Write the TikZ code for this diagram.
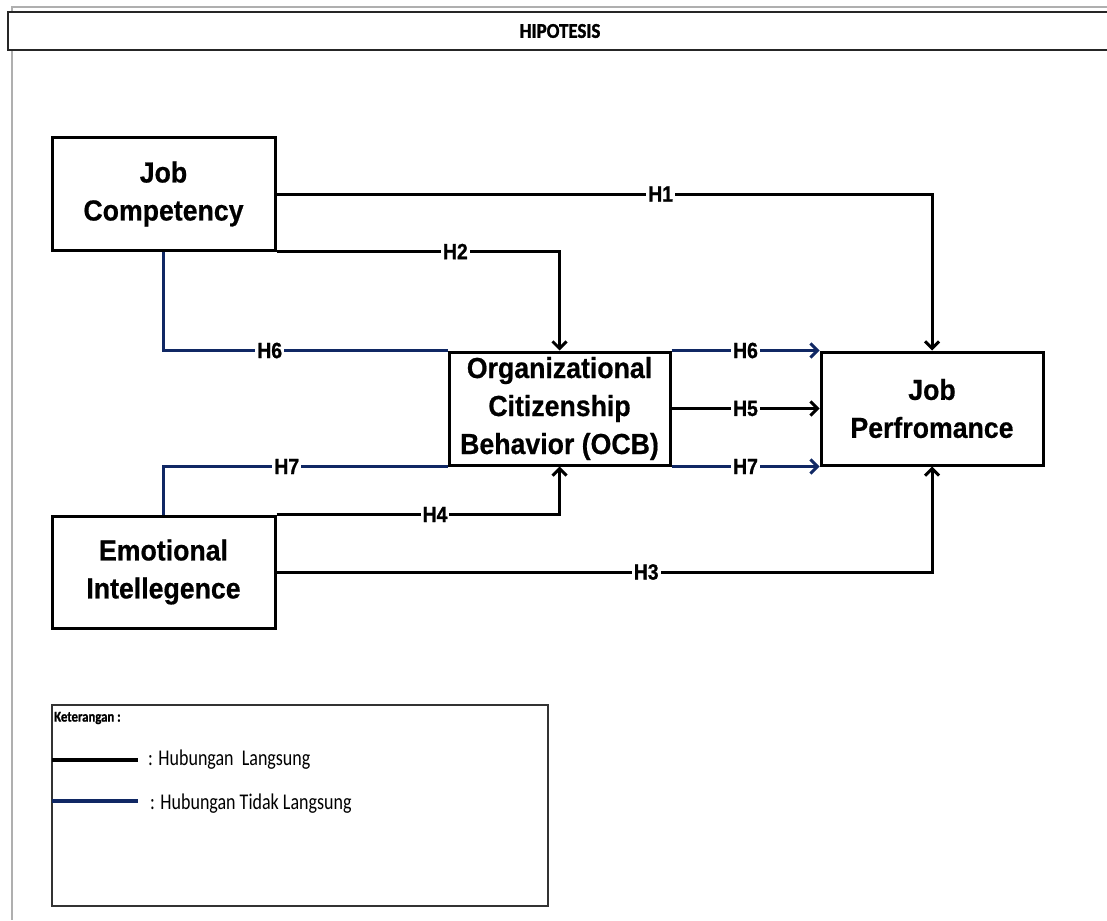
\documentclass[tikz,border=0pt]{standalone}
\usepackage{fontspec}
\setmainfont{Liberation Sans}
\newfontfamily\boxfont{Liberation Sans}[FakeStretch=0.92,FakeBold=0.6]
\newfontfamily\lblfont{Liberation Sans}[FakeStretch=0.88,FakeBold=1]
\newfontfamily\legfont{Carlito}[FakeStretch=0.8]
\newfontfamily\ketfont{Carlito}[FakeStretch=0.85,FakeBold=1]
\newfontfamily\titfont{Carlito}[FakeStretch=0.9,FakeBold=1.5]
\usetikzlibrary{arrows.meta}
\definecolor{navy}{RGB}{16,40,100}
\definecolor{framegray}{RGB}{175,175,175}
\begin{document}
\begin{tikzpicture}[x=1pt,y=-1pt,
  box/.style={draw, line width=3pt, inner sep=0pt, align=center,
    font={\boxfont\bfseries\fontsize{29}{38}\selectfont}},
  lbl/.style={fill=white, inner xsep=2pt, inner ysep=1pt,
    font={\lblfont\bfseries\fontsize{22}{24}\selectfont}},
  conn/.style={line width=3pt},
  indirect/.style={conn, draw=navy},
  arr/.style={-{Straight Barb[length=7pt,width=14pt]}},
  legtext/.style={anchor=west, inner sep=0pt, font={\legfont\fontsize{22.5}{24}\selectfont}}
]
\useasboundingbox (0,0) rectangle (1107,920);

% outer frame
\draw[framegray, line width=1.5pt] (12,12) -- (12,7) -- (1107,7);
\draw[framegray, line width=1.5pt] (12,50) -- (12,920);
\node[draw=black!85, line width=1.6pt, minimum width=1104pt, minimum height=38pt, inner sep=0pt,
  font={\titfont\bfseries\fontsize{21}{23}\selectfont}] (title) at (560,31) {HIPOTESIS};

% main nodes
\node[box, minimum width=223pt, minimum height=112pt] (jc) at (163.5,194) {Job\\Competency};
\node[box, minimum width=221pt, minimum height=113pt] (ocb) at (559.5,408.5) {Organizational\\Citizenship\\Behavior (OCB)};
\node[box, minimum width=222pt, minimum height=113pt] (jp) at (932,408.5) {Job\\Perfromance};
\node[box, minimum width=223pt, minimum height=112pt] (ei) at (163.5,572) {Emotional\\Intellegence};

% direct connectors
\draw[conn, arr] (jc.east) -| node[lbl, pos=0.293] (h1) {H1} (jp.north);
\draw[conn, arr] (jc.south east) -| node[lbl, pos=0.316] (h2) {H2} (ocb.north);
\draw[conn, arr] (ei.north east) -| node[lbl, pos=0.28] (h4) {H4} (ocb.south);
\draw[conn, arr] (ei.east) -| node[lbl, pos=0.282] (h3) {H3} (jp.south);
\draw[conn, arr] (ocb.east) -- node[lbl] (h5) {H5} (jp.west);

% indirect connectors
\draw[indirect] (jc.south) |- node[lbl, pos=0.687] (h6a) {H6} (ocb.north west);
\draw[indirect] (ei.north) |- node[lbl, pos=0.717] (h7a) {H7} (ocb.south west);
\draw[indirect, arr] (ocb.north east) -- node[lbl] (h6b) {H6} (jp.north west);
\draw[indirect, arr] (ocb.south east) -- node[lbl] (h7b) {H7} (jp.south west);

% legend
\node[draw=black!80, line width=1.3pt, minimum width=496pt, minimum height=201pt, inner sep=0pt] (legend) at (300,805.5) {};
\node[anchor=west, inner sep=0pt, font={\ketfont\bfseries\fontsize{15}{17}\selectfont}] (ket) at (54,718) {Keterangan :};
\coordinate (l1a) at (52,760);
\coordinate (l1b) at (138,760);
\coordinate (l2a) at (52,801);
\coordinate (l2b) at (138,801);
\draw[line width=3.5pt] (l1a) -- (l1b);
\draw[line width=3.5pt, navy] (l2a) -- (l2b);
\node[legtext] (t1) at (148,760) {: Hubungan\ \ Langsung};
\node[legtext] (t2) at (150,804) {: Hubungan Tidak Langsung};
\end{tikzpicture}
\end{document}
